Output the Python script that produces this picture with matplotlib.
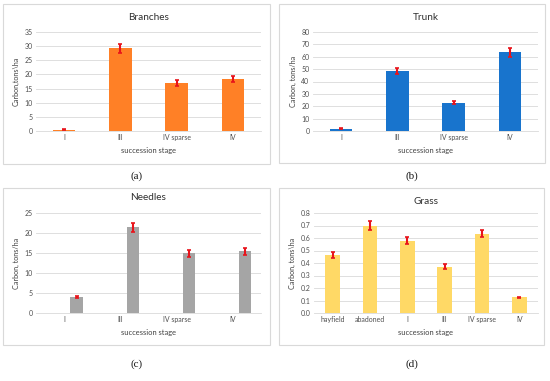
import matplotlib
matplotlib.use("Agg")
import matplotlib.pyplot as plt
from matplotlib.patches import Rectangle
import numpy as np

W, H = 550, 381

stages4 = ["I", "III", "IV sparse", "IV"]
branches = [0.4, 29.2, 17.0, 18.3]
branches_err = [0.15, 1.5, 1.0, 1.0]
trunk = [2.0, 48.5, 23.0, 63.5]
trunk_err = [0.5, 2.6, 1.5, 3.4]
needles = [4.0, 21.4, 14.9, 15.4]
needles_err = [0.3, 1.1, 0.8, 0.8]
stages6 = ["hayfield", "abadoned", "I", "III", "IV sparse", "IV"]
grass = [0.465, 0.70, 0.58, 0.37, 0.635, 0.125]
grass_err = [0.025, 0.035, 0.03, 0.02, 0.03, 0.006]

FONT = "Lato"
plt.rcParams['font.family'] = [FONT, 'DejaVu Sans']

fig = plt.figure(figsize=(W / 100, H / 100), dpi=100)
fig.patch.set_facecolor("white")


def fx(x):
    return x / W


def fy(y):
    return 1 - y / H


def box(x0, y0, x1, y1):
    fig.patches.append(Rectangle((fx(x0), fy(y1)), fx(x1) - fx(x0), fy(y0) - fy(y1),
                                 transform=fig.transFigure, fill=False,
                                 edgecolor="#D9D9D9", linewidth=0.8))


def panel(px, py, pw, ph, cats, vals, errs, color, ylim, yticks, fmt, title,
          ylabel, title_y, xlab_y, offset=0.0, width=0.4):
    ax = fig.add_axes([fx(px), fy(py + ph), pw / W, ph / H])
    x = np.arange(len(cats))
    ax.bar(x + offset, vals, width=width, color=color, zorder=2)
    ax.errorbar(x + offset, vals, yerr=errs, fmt="none", ecolor="#E8141B",
                elinewidth=1.5, capsize=1.6, capthick=1.2, zorder=3)
    ax.set_xlim(-0.5, len(cats) - 0.5)
    ax.set_ylim(*ylim)
    ax.set_yticks(yticks)
    ax.set_yticklabels([fmt.format(v) for v in yticks], fontsize=5.0, color="#505050")
    ax.set_xticks(x)
    ax.set_xticklabels(cats, fontsize=5.0, color="#505050")
    ax.tick_params(length=0, pad=2.5)
    ax.grid(axis="y", color="#D9D9D9", linewidth=0.6, zorder=0)
    ax.set_axisbelow(True)
    for s in ["top", "right", "left"]:
        ax.spines[s].set_visible(False)
    ax.spines["bottom"].set_color("#D9D9D9")
    ax.spines["bottom"].set_linewidth(0.6)
    ax.set_ylabel(ylabel, fontsize=5.2, color="#404040", labelpad=3)
    cx = px + pw / 2
    fig.text(fx(cx), fy(title_y), title, fontsize=7.2, color="#303030",
             ha="center", va="center")
    fig.text(fx(cx), fy(xlab_y), "succession stage", fontsize=5.4, color="#404040",
             ha="center", va="center")
    return ax


box(3, 4, 270, 164)
box(279, 4, 545, 163)
box(3, 188, 270, 345)
box(279, 188, 544, 345)

panel(36, 32, 225, 99, stages4, branches, branches_err, "#FF8026", (0, 35),
      list(range(0, 36, 5)), "{:g}", "Branches", "Carbon,tons\\ha", 17, 151)
panel(313, 32, 225, 99, stages4, trunk, trunk_err, "#1874CD", (0, 80),
      list(range(0, 81, 10)), "{:g}", "Trunk", "Carbon, tons/ha", 17, 151)
panel(36, 213, 225, 100, stages4, needles, needles_err, "#A5A5A5", (0, 25),
      list(range(0, 26, 5)), "{:g}", "Needles", "Carbon, tons/ha", 198, 333,
      offset=0.22, width=0.22)
panel(314, 213, 224, 100, stages6, grass, grass_err, "#FFD966", (0, 0.8),
      [i / 10 for i in range(9)], "{:.1f}", "Grass", "Carbon, tons\\ha", 202, 333)

for lab, x, y in [("(a)", 137, 176), ("(b)", 412, 176), ("(c)", 137, 364), ("(d)", 412, 364)]:
    fig.text(fx(x), fy(y), lab, fontsize=8.0, family="Liberation Serif",
             color="#1a1a1a", ha="center", va="center")

fig.savefig("out.png", dpi=100, facecolor="white")
